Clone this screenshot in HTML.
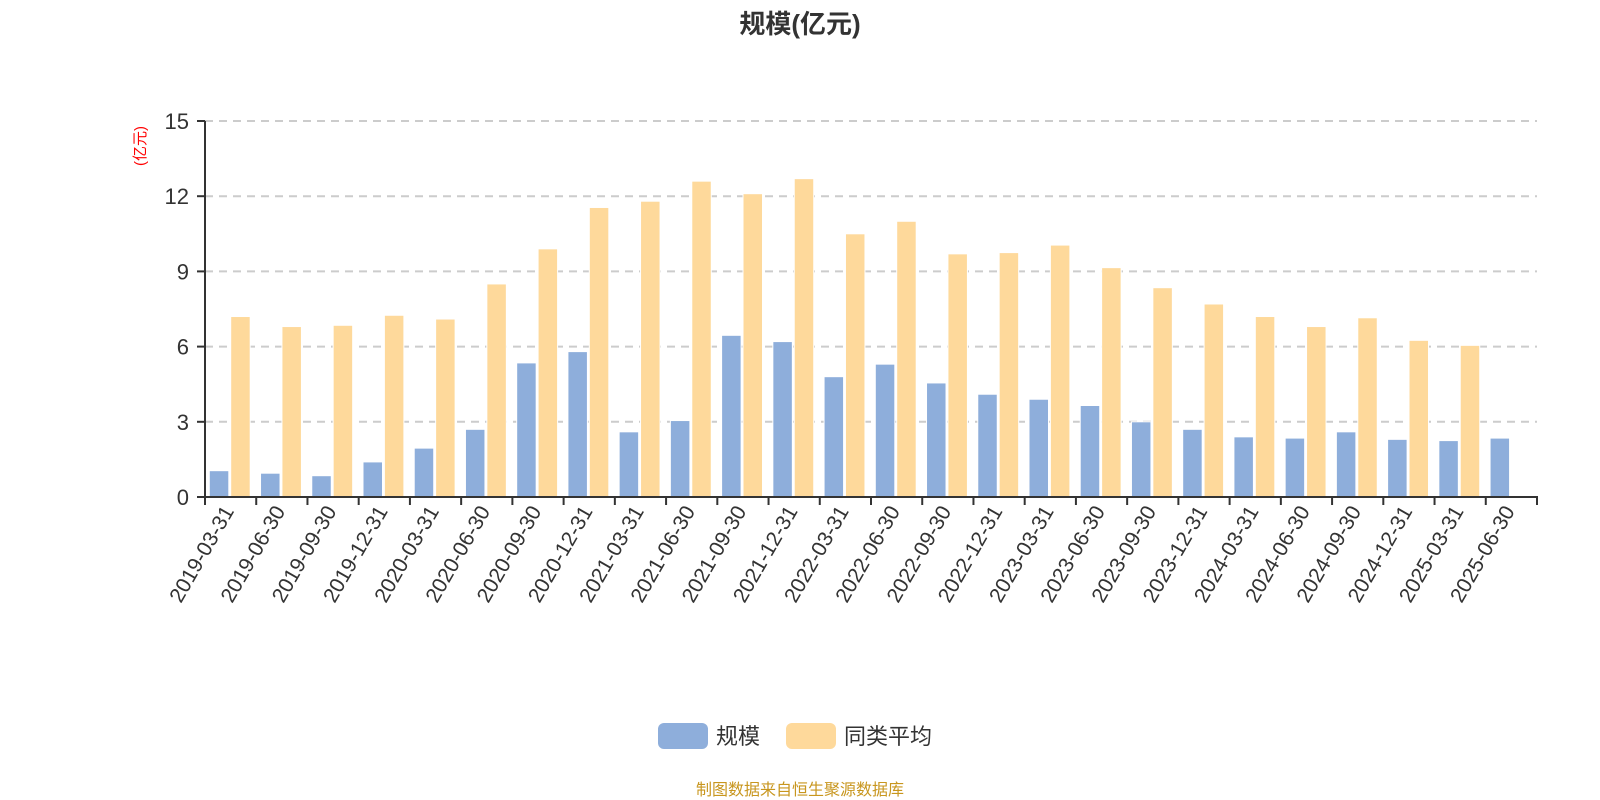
<!DOCTYPE html>
<html><head><meta charset="utf-8"><style>
html,body{margin:0;padding:0;background:#fff;width:1600px;height:800px;overflow:hidden}
svg{display:block;font-family:"Liberation Sans","Noto Sans CJK SC",sans-serif}
</style></head><body>
<svg id="chart" width="1600" height="800" viewBox="0 0 1600 800">
<text x="800" y="33" text-anchor="middle" font-size="26" font-weight="bold" fill="#333">规模(亿元)</text>
<text transform="translate(145,146) rotate(-90)" text-anchor="middle" font-size="15" fill="#f00">(亿元)</text>
<g id="grid"></g>
<g id="bars"></g>
<g id="axes"></g>
<g>
<rect x="658" y="723" width="50" height="26" rx="6" fill="#8eaedb"/>
<text x="716" y="744" font-size="22" fill="#333">规模</text>
<rect x="786" y="723" width="50" height="26" rx="6" fill="#fed99b"/>
<text x="844" y="744" font-size="22" fill="#333">同类平均</text>
</g>
<text x="800" y="795" text-anchor="middle" font-size="16" fill="#c8961e">制图数据来自恒生聚源数据库</text>
</svg>
<script>
const categories=["2019-03-31","2019-06-30","2019-09-30","2019-12-31","2020-03-31","2020-06-30","2020-09-30","2020-12-31","2021-03-31","2021-06-30","2021-09-30","2021-12-31","2022-03-31","2022-06-30","2022-09-30","2022-12-31","2023-03-31","2023-06-30","2023-09-30","2023-12-31","2024-03-31","2024-06-30","2024-09-30","2024-12-31","2025-03-31","2025-06-30"];
const sizeValues=[1.05,0.95,0.85,1.4,1.95,2.7,5.35,5.8,2.6,3.05,6.45,6.2,4.8,5.3,4.55,4.1,3.9,3.65,3.0,2.7,2.4,2.35,2.6,2.3,2.25,2.35];
const avgValues=[7.2,6.8,6.85,7.25,7.1,8.5,9.9,11.55,11.8,12.6,12.1,12.7,10.5,11.0,9.7,9.75,10.05,9.15,8.35,7.7,7.2,6.8,7.15,6.25,6.05,null];
const yTicks=[0,3,6,9,12,15];
const NS="http://www.w3.org/2000/svg";
const X0=205,X1=1537,Y0=497,Y1=121,YMAX=15;
const band=(X1-X0)/categories.length;
const bw=19.5;
function y(v){return Y0-(v/YMAX)*(Y0-Y1);}
function xb(i){return X0+i*band;}
function mk(tag,attrs,parent){const e=document.createElementNS(NS,tag);for(const k in attrs)e.setAttribute(k,attrs[k]);parent.appendChild(e);return e;}
const grid=document.getElementById('grid'),bars=document.getElementById('bars'),axes=document.getElementById('axes');
yTicks.forEach(t=>{
  if(t>0){const l=mk('line',{x1:X0,x2:X1,y1:y(t),y2:y(t),stroke:'#ccc','stroke-width':2,'stroke-dasharray':'8,6'},grid);
  
  }
  const tk=mk('line',{x1:X0-8,x2:X0,y1:y(t),y2:y(t),stroke:'#333','stroke-width':2},axes);
  
  
  const tx=mk('text',{x:X0-16,y:y(t)+8,'text-anchor':'end','font-size':22,fill:'#333'},axes);
  tx.textContent=t;
  
  
});
categories.forEach((c,i)=>{
  const b0=xb(i);
  if(sizeValues[i]!=null){const r=mk('rect',{x:b0+4.3,y:y(sizeValues[i]),width:bw,height:Y0-y(sizeValues[i]),fill:'#8eaedb',stroke:'#fff','stroke-width':1},bars);
  
  }
  if(avgValues[i]!=null){const r=mk('rect',{x:b0+25.7,y:y(avgValues[i]),width:bw,height:Y0-y(avgValues[i]),fill:'#fed99b',stroke:'#fff','stroke-width':1},bars);
  
  }
  const tk=mk('line',{x1:b0,x2:b0,y1:Y0,y2:Y0+8,stroke:'#333','stroke-width':2},axes);
  
  
  const cx=b0+band/2;
  const tx=mk('text',{transform:'translate('+(cx+4)+','+(Y0+14)+') rotate(-60)','text-anchor':'end','font-size':21,fill:'#333'},axes);
  tx.textContent=c;
  
  
});
const lastTick=mk('line',{x1:X1,x2:X1,y1:Y0,y2:Y0+8,stroke:'#333','stroke-width':2},axes);


const ya=mk('line',{x1:X0,x2:X0,y1:Y1,y2:Y0,stroke:'#333','stroke-width':2},axes);


const xa=mk('line',{x1:X0-1,x2:X1+1,y1:Y0,y2:Y0,stroke:'#333','stroke-width':2},axes);


</script>
</body></html>
